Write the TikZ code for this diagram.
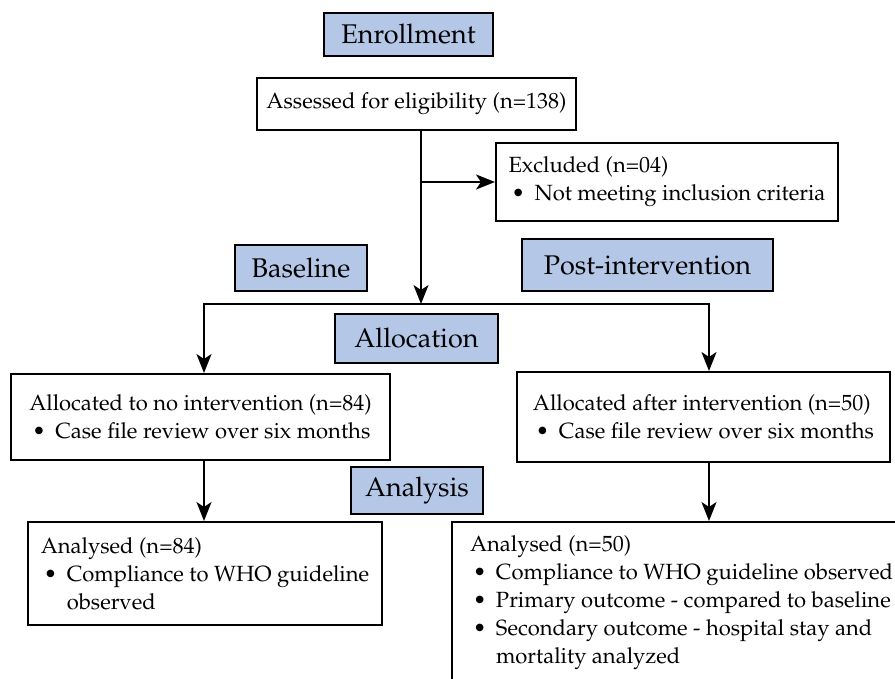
\documentclass[tikz,border=0pt]{standalone}
\usepackage[T1]{fontenc}
\usepackage{mathpazo}
\usetikzlibrary{arrows.meta}
\definecolor{stageblue}{RGB}{180,199,231}
\newcommand{\bitem}{\makebox[26pt][l]{\hspace{3pt}\textbullet}}
\newcommand{\bcont}{\hspace*{26pt}}

\begin{document}
\begin{tikzpicture}[x=1pt, y=-1pt,
        stage/.style={draw, line width=1.7pt, fill=stageblue, inner sep=0pt, font=\fontsize{27}{32}\selectfont},
        box/.style={draw, line width=2pt, inner sep=0pt, align=left, font=\fontsize{22}{28}\selectfont},
        arr/.style={line width=1.8pt, -{Stealth[length=19pt, width=15pt, inset=5pt]}}]
        \useasboundingbox (0,0) rectangle (895,679);
        \clip (0,0) rectangle (895,679);

        \node[stage, minimum width=169, minimum height=43] (enroll) at (408.5,34.5) {Enrollment};
        \node[stage, minimum width=132, minimum height=46] (baseline) at (301,268) {Baseline};
        \node[stage, minimum width=251, minimum height=52] (postlab) at (647.5,265) {Post-intervention};
        \node[stage, minimum width=163, minimum height=49] (allocation) at (416.5,338.5) {Allocation};
        \node[stage, minimum width=132, minimum height=47] (analysis) at (417,490.5) {Analysis};

        \node[box, align=center, minimum width=319, minimum height=52] (assess) at (416.5,104) {Assessed for eligibility (n=138)};
        \node[box, minimum width=342, minimum height=78] (excl) at (667,182) {Excluded (n=04)\\ \bitem Not meeting inclusion criteria};
        \node[box, minimum width=379, minimum height=86] (noint) at (200.5,417) {Allocated to no intervention (n=84)\\ \bitem Case file review over six months};
        \node[box, minimum width=373, minimum height=90] (postint) at (703.5,417) {Allocated after intervention (n=50)\\ \bitem Case file review over six months};
        \node[box, minimum width=354, minimum height=103] (an1) at (205,573.5) {Analysed (n=84)\\ \bitem Compliance to WHO guideline\\ \bcont observed};
        \node[box, anchor=north west, inner xsep=18pt, inner ysep=14pt] (an2) at (451,521) {Analysed (n=50)\\ \bitem Compliance to WHO guideline observed\\ \bitem Primary outcome - compared to baseline\\ \bitem Secondary outcome - hospital stay and\\ \bcont mortality analyzed};

        \coordinate (split) at (421,304);
        \coordinate (lft) at (204,304);
        \coordinate (rgt) at (709,304);

        \draw[arr] (split |- assess.south) -- (split);
        \draw[arr] (split |- excl.west) -- (excl.west);
        \draw[arr] (split) -| (lft |- noint.north);
        \draw[arr] (split) -| (rgt |- postint.north);
        \draw[arr] (lft |- noint.south) -- (lft |- an1.north);
        \draw[arr] (rgt |- postint.south) -- (rgt |- an2.north);
    \end{tikzpicture}
\end{document}
